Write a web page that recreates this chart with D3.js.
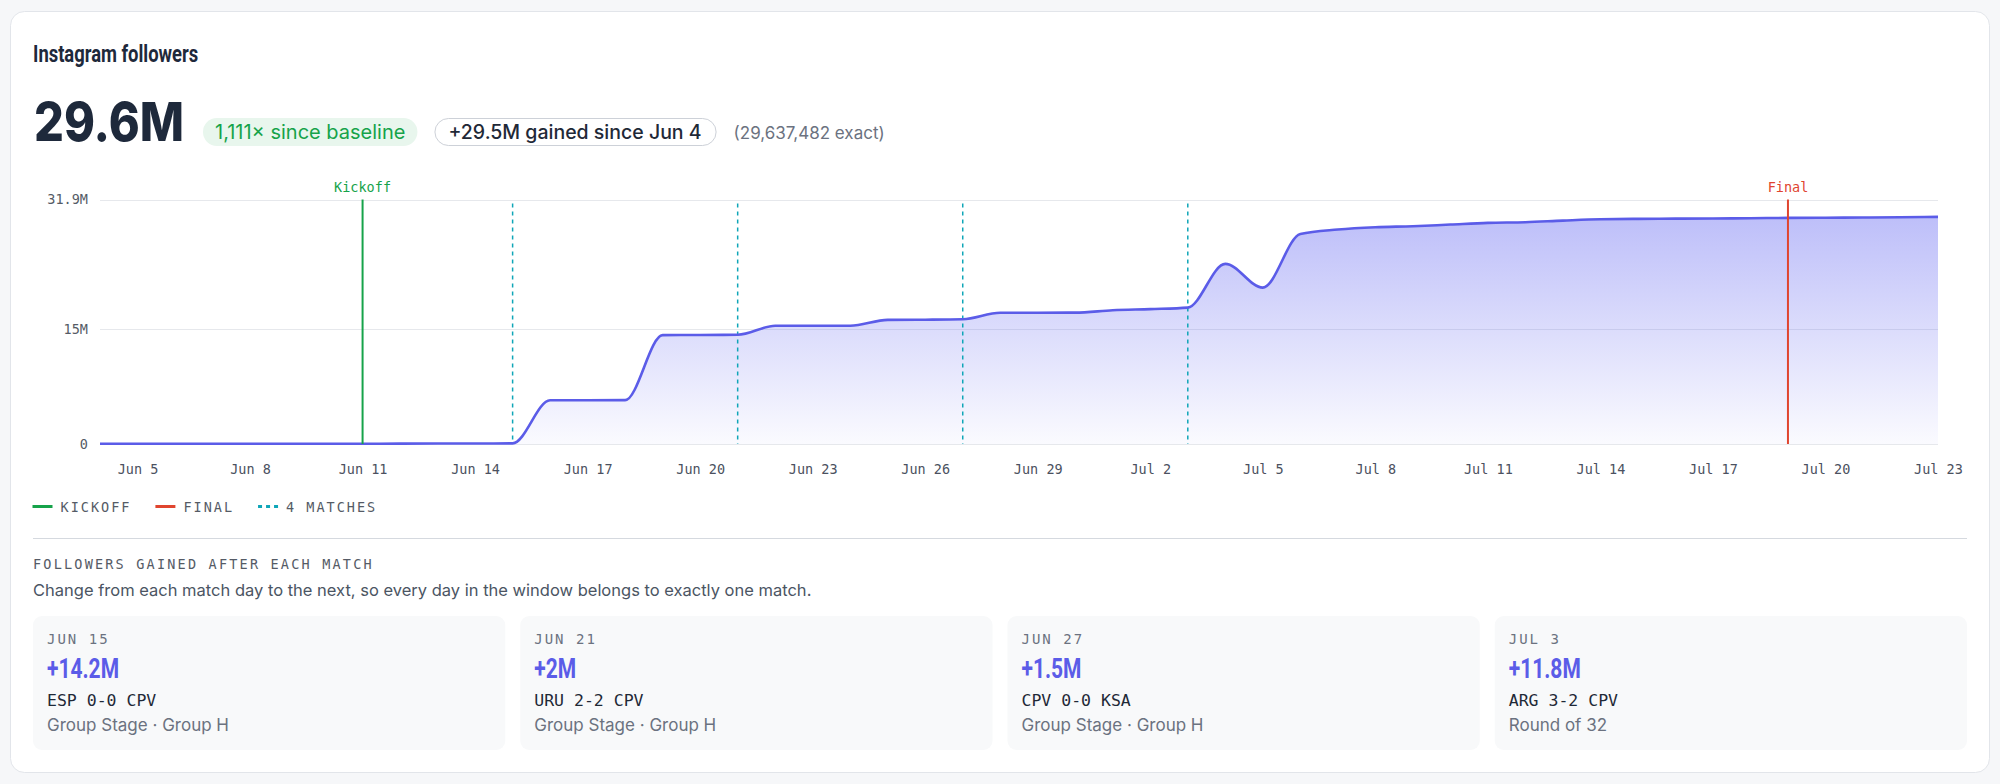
<!DOCTYPE html>
<html>
<head>
<meta charset="utf-8">
<script src="https://cdn.jsdelivr.net/npm/d3@7"></script>
<style>
  body { margin: 0; background: #f6f7f9; }
  svg { display: block; }
</style>
</head>
<body>
<svg id="chart" width="2000" height="784"></svg>
<script>
(function () {
    "use strict";

    // ---- data ----
    var startDay = "2026-06-04";
    // followers in millions, one value per day Jun 4 .. Jul 23
    var followers = [
        0.027, 0.027, 0.027, 0.027, 0.027, 0.027, 0.028, 0.03, 0.05, 0.06, 0.07, 0.08,
        5.70, 5.70, 5.72, 14.20, 14.22, 14.25, 15.42, 15.43, 15.43, 16.20, 16.22, 16.27,
        17.12, 17.13, 17.14, 17.45, 17.60, 17.79, 23.50, 20.40, 27.40, 27.98, 28.28,
        28.41, 28.63, 28.85, 28.93, 29.15, 29.33, 29.37, 29.40, 29.42, 29.46, 29.50,
        29.52, 29.55, 29.58, 29.637
    ];
    var yTicks = [0, 15, 31.9];
    var yTickLabels = ["0", "15M", "31.9M"];
    var kickoffDay = "2026-06-11";
    var finalDay = "2026-07-19";
    var matchDays = ["2026-06-15", "2026-06-21", "2026-06-27", "2026-07-03"];
    var matchGains = ["+14.2M", "+2M", "+1.5M", "+11.8M"];
    var matchScores = ["ESP 0-0 CPV", "URU 2-2 CPV", "CPV 0-0 KSA", "ARG 3-2 CPV"];
    var matchStages = ["Group Stage \u00b7 Group H", "Group Stage \u00b7 Group H", "Group Stage \u00b7 Group H", "Round of 32"];
    var legendItems = [
        {label: "KICKOFF", color: "#16a34a", dash: null},
        {label: "FINAL", color: "#e0452f", dash: null},
        {label: "4 MATCHES", color: "#0fa6b8", dash: "4,4"}
    ];

    var SANS = "Inter, 'Noto Sans', sans-serif";
    var MONO = "'DejaVu Sans Mono', 'Liberation Mono', monospace";
    var COND = "Roboto, 'Noto Sans', sans-serif";
    var INK = "#1e293b";
    var MUTED = "#6b7280";
    var LINE = "#5b5ce8";

    var parseDay = d3.utcParse("%Y-%m-%d");
    var day0 = parseDay(startDay);
    var series = followers.map(function (v, i) {
        return {date: d3.utcDay.offset(day0, i), value: v};
    });

    var svg = d3.select("#chart");

    // ---- outer card ----
    svg.append("rect")
        .attr("x", 10.5).attr("y", 11.5)
        .attr("width", 1979).attr("height", 761)
        .attr("rx", 14)
        .attr("fill", "#fff")
        .attr("stroke", "#e2e5ea");

    // ---- header ----
    svg.append("text")
        .attr("transform", "translate(33,62) scale(0.8,1)")
        .attr("font-family", COND)
        .attr("font-weight", 700)
        .attr("font-size", 23)
        .attr("fill", INK)
        .text("Instagram followers");

    svg.append("text")
        .attr("x", 34).attr("y", 141)
        .attr("font-family", SANS)
        .attr("font-weight", 800)
        .attr("font-size", 54)
        .attr("textLength", 150)
        .attr("lengthAdjust", "spacingAndGlyphs")
        .attr("fill", INK)
        .text("29.6M");

    var pillY = 118;
    var pillX = 203;
    var pill1 = svg.append("g");
    var pill1Text = pill1.append("text")
        .attr("x", pillX + 12).attr("y", 139)
        .attr("font-family", SANS)
        .attr("font-size", 20)
        .attr("fill", "#16a34a")
        .text("1,111\u00d7 since baseline");
    var w1 = pill1Text.node().getComputedTextLength() + 24;
    pill1.insert("rect", "text")
        .attr("x", pillX).attr("y", pillY)
        .attr("width", w1).attr("height", 28)
        .attr("rx", 14)
        .attr("fill", "#e8f6ed");

    var pill2X = pillX + w1 + 17;
    var pill2 = svg.append("g");
    var pill2Text = pill2.append("text")
        .attr("x", pill2X + 14).attr("y", 139)
        .attr("font-family", SANS)
        .attr("font-weight", 500)
        .attr("font-size", 19.5)
        .attr("fill", "#1f2937")
        .text("+29.5M gained since Jun 4");
    var w2 = pill2Text.node().getComputedTextLength() + 28;
    pill2.insert("rect", "text")
        .attr("x", pill2X + 0.5).attr("y", pillY + 0.5)
        .attr("width", w2).attr("height", 27)
        .attr("rx", 13.5)
        .attr("fill", "#fff")
        .attr("stroke", "#cdd1d8");

    svg.append("text")
        .attr("x", pill2X + w2 + 18).attr("y", 139)
        .attr("font-family", SANS)
        .attr("font-size", 17)
        .attr("fill", MUTED)
        .text("(29,637,482 exact)");

    // ---- chart ----
    var plot = {left: 100, right: 1938, top: 199.5, bottom: 444};

    var x = d3.scaleUtc()
        .domain([series[0].date, series[series.length - 1].date])
        .range([plot.left, plot.right]);
    var y = d3.scaleLinear()
        .domain([0, 31.9])
        .range([plot.bottom, plot.top]);

    var defs = svg.append("defs");
    var grad = defs.append("linearGradient")
        .attr("id", "areaFill")
        .attr("gradientUnits", "userSpaceOnUse")
        .attr("x1", 0).attr("x2", 0)
        .attr("y1", y(29.6)).attr("y2", plot.bottom);
    grad.append("stop").attr("offset", 0).attr("stop-color", "#6366f1").attr("stop-opacity", 0.42);
    grad.append("stop").attr("offset", 1).attr("stop-color", "#6366f1").attr("stop-opacity", 0.03);

    // gridlines
    svg.append("g")
        .selectAll("line")
        .data(yTicks)
        .join("line")
        .attr("x1", plot.left).attr("x2", plot.right)
        .attr("y1", function (d) { return Math.round(y(d)) + 0.5; })
        .attr("y2", function (d) { return Math.round(y(d)) + 0.5; })
        .attr("stroke", "#e6e8ec");

    // y axis labels
    var yAxis = svg.append("g")
        .attr("transform", "translate(" + plot.left + ",0)")
        .call(d3.axisLeft(y)
            .tickValues(yTicks)
            .tickFormat(function (d, i) { return yTickLabels[i]; })
            .tickSize(0)
            .tickPadding(12));
    yAxis.select(".domain").remove();
    yAxis.selectAll("text")
        .attr("font-family", MONO)
        .attr("font-size", 13.5)
        .attr("fill", "#555b66");

    // x axis labels, every third day from Jun 5
    var xTickDays = series.filter(function (d, i) { return i % 3 === 1; }).map(function (d) { return d.date; });
    var xAxis = svg.append("g")
        .attr("transform", "translate(0," + plot.bottom + ")")
        .call(d3.axisBottom(x)
            .tickValues(xTickDays)
            .tickFormat(d3.utcFormat("%b %-d"))
            .tickSize(0)
            .tickPadding(20));
    xAxis.select(".domain").remove();
    xAxis.selectAll("text")
        .attr("font-family", MONO)
        .attr("font-size", 13.5)
        .attr("fill", "#4b5160");

    // area + line
    var area = d3.area()
        .x(function (d) { return x(d.date); })
        .y0(plot.bottom)
        .y1(function (d) { return y(d.value); })
        .curve(d3.curveMonotoneX);
    var line = d3.line()
        .x(function (d) { return x(d.date); })
        .y(function (d) { return y(d.value); })
        .curve(d3.curveMonotoneX);

    svg.append("path")
        .datum(series)
        .attr("d", area)
        .attr("fill", "url(#areaFill)");

    // match markers
    svg.append("g")
        .selectAll("line")
        .data(matchDays)
        .join("line")
        .attr("x1", function (d) { return x(parseDay(d)); })
        .attr("x2", function (d) { return x(parseDay(d)); })
        .attr("y1", plot.top + 4)
        .attr("y2", plot.bottom)
        .attr("stroke", "#0fa6b8")
        .attr("stroke-width", 1.5)
        .attr("stroke-dasharray", "4,4");

    svg.append("path")
        .datum(series)
        .attr("d", line)
        .attr("fill", "none")
        .attr("stroke", LINE)
        .attr("stroke-width", 2.6)
        .attr("stroke-linejoin", "round");

    var events = [
        {day: kickoffDay, label: "Kickoff", color: "#16a34a"},
        {day: finalDay, label: "Final", color: "#e0452f"}
    ];
    var ev = svg.append("g").selectAll("g")
        .data(events)
        .join("g");
    ev.append("line")
        .attr("x1", function (d) { return x(parseDay(d.day)); })
        .attr("x2", function (d) { return x(parseDay(d.day)); })
        .attr("y1", plot.top)
        .attr("y2", plot.bottom)
        .attr("stroke", function (d) { return d.color; })
        .attr("stroke-width", 2);
    ev.append("text")
        .attr("x", function (d) { return x(parseDay(d.day)); })
        .attr("y", 192)
        .attr("text-anchor", "middle")
        .attr("font-family", MONO)
        .attr("font-size", 13.5)
        .attr("fill", function (d) { return d.color; })
        .text(function (d) { return d.label; });

    // ---- legend ----
    var lx = 32.5;
    legendItems.forEach(function (item) {
        svg.append("line")
            .attr("x1", lx).attr("x2", lx + 20)
            .attr("y1", 506.5).attr("y2", 506.5)
            .attr("stroke", item.color)
            .attr("stroke-width", 3)
            .attr("stroke-dasharray", item.dash);
        var t = svg.append("text")
            .attr("x", lx + 28).attr("y", 512)
            .attr("font-family", MONO)
            .attr("font-size", 13.5)
            .attr("letter-spacing", 2)
            .attr("fill", "#555b66")
            .text(item.label);
        lx += 28 + t.node().getComputedTextLength() + 24;
    });

    // ---- separator + section heading ----
    svg.append("line")
        .attr("x1", 33).attr("x2", 1967)
        .attr("y1", 538.5).attr("y2", 538.5)
        .attr("stroke", "#d5d9df");

    svg.append("text")
        .attr("x", 33).attr("y", 569)
        .attr("font-family", MONO)
        .attr("font-size", 13.5)
        .attr("letter-spacing", 2.2)
        .attr("fill", "#555b66")
        .text("FOLLOWERS GAINED AFTER EACH MATCH");

    svg.append("text")
        .attr("x", 33).attr("y", 595.5)
        .attr("font-family", SANS)
        .attr("font-size", 16.5)
        .attr("fill", "#4b5563")
        .text("Change from each match day to the next, so every day in the window belongs to exactly one match.");

    // ---- match cards ----
    var cardGap = 15;
    var cardW = (1934 - 3 * cardGap) / 4;
    var fmtCard = d3.utcFormat("%b %-d");
    var cards = svg.append("g")
        .selectAll("g")
        .data(matchDays)
        .join("g")
        .attr("transform", function (d, i) {
            return "translate(" + (33 + i * (cardW + cardGap)) + ",616)";
        });
    cards.append("rect")
        .attr("width", cardW).attr("height", 134)
        .attr("rx", 9)
        .attr("fill", "#f8f9fa");
    cards.append("text")
        .attr("x", 14).attr("y", 27.5)
        .attr("font-family", MONO)
        .attr("font-size", 14)
        .attr("letter-spacing", 2)
        .attr("fill", MUTED)
        .text(function (d) { return fmtCard(parseDay(d)).toUpperCase(); });
    cards.append("text")
        .attr("transform", "translate(14,62) scale(0.75,1)")
        .attr("font-family", COND)
        .attr("font-weight", 700)
        .attr("font-size", 28)
        .attr("fill", LINE)
        .text(function (d, i) { return matchGains[i]; });
    cards.append("text")
        .attr("x", 14).attr("y", 90)
        .attr("font-family", MONO)
        .attr("font-size", 16.5)
        .attr("fill", "#1f2937")
        .text(function (d, i) { return matchScores[i]; });
    cards.append("text")
        .attr("x", 14).attr("y", 115)
        .attr("font-family", SANS)
        .attr("font-size", 17)
        .attr("fill", MUTED)
        .text(function (d, i) { return matchStages[i]; });
})();
</script>
</body>
</html>
